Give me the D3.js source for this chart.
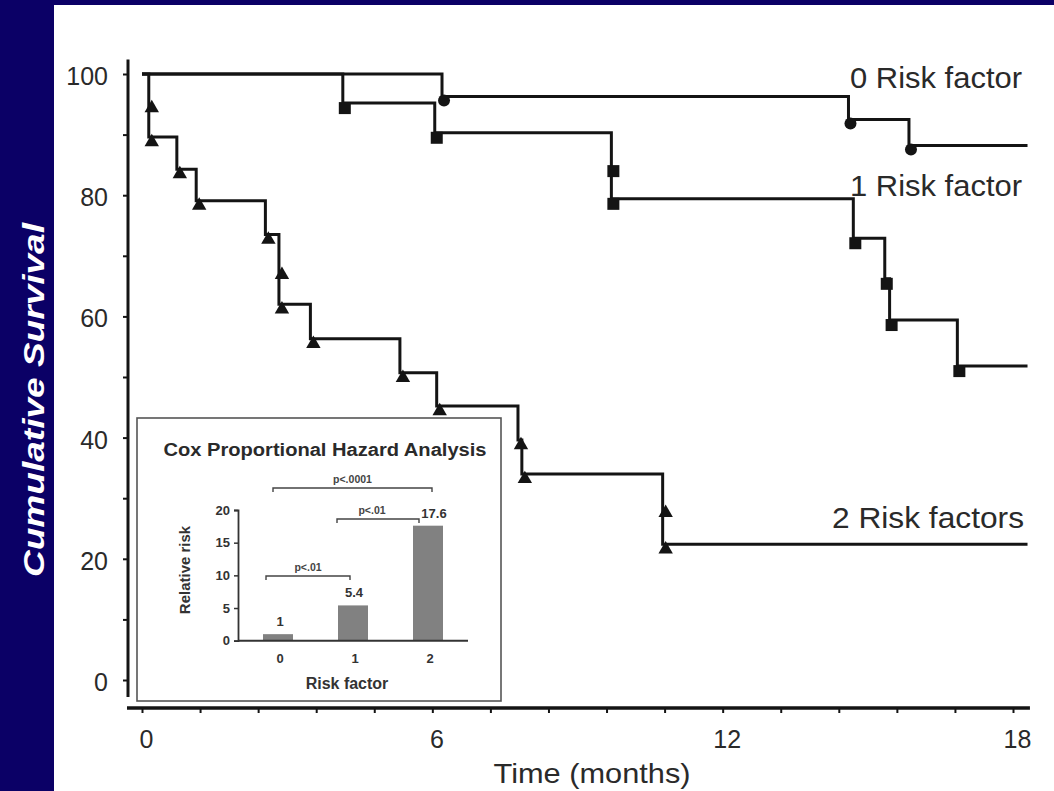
<!DOCTYPE html>
<html>
<head>
<meta charset="utf-8">
<script src="https://cdn.jsdelivr.net/npm/d3@7"></script>
<style>
  html, body { margin: 0; padding: 0; background: #ffffff; }
  svg { display: block; }
  text { font-family: "Liberation Sans", Arial, sans-serif; }
</style>
</head>
<body>
<svg id="chart" width="1054" height="791"></svg>
<script>
// ---------------- DATA ----------------
const timeEnd = 18.3;
const xTickValues = d3.range(0, 16).map(i => i * 6 / 5);   // ticks every 1.2 months
const xTickLabels = [0, 6, 12, 18];
const yTickValues = d3.range(0, 101, 10);
const yTickLabels = [0, 20, 40, 60, 80, 100];

// 0 risk factor (circles)
const g0Times    = [6.2, 14.6, 15.85];
const g0Survival = [96.3, 92.5, 88.2];
// 1 risk factor (squares)
const g1Times    = [4.15, 6.05, 9.7, 9.7, 14.7, 15.35, 15.45, 16.85];
const g1Survival = [95.2, 90.3, 84.8, 79.4, 72.9, 66.2, 59.4, 51.8];
// 2 risk factors (triangles)
const g2Times    = [0.14, 0.14, 0.72, 1.12, 2.55, 2.83, 2.83, 3.48, 5.33, 6.09, 7.77, 7.85, 10.76, 10.76];
const g2Survival = [95.2, 89.6, 84.3, 79.1, 73.5, 67.7, 62.0, 56.3, 50.7, 45.2, 39.6, 34.0, 28.4, 22.4];

const seriesLabels = ["0 Risk factor", "1 Risk factor", "2 Risk factors"];

// Inset: Cox proportional hazard analysis
const insetCategories = ["0", "1", "2"];
const insetValues = [1, 5.4, 17.6];
const insetValueLabels = ["1", "5.4", "17.6"];
const insetTicks = [0, 5, 10, 15, 20];
const insetBrackets = [
  { from: "0", to: "2", label: "p<.0001" },
  { from: "1", to: "2", label: "p<.01" },
  { from: "0", to: "1", label: "p<.01" }
];

// ---------------- DRAW ----------------
const svg = d3.select("#chart");
const navy = "#0b0066";
const ink = "#141414";

svg.append("rect").attr("x", 0).attr("y", 0).attr("width", 1054).attr("height", 791).attr("fill", navy);
svg.append("rect").attr("x", 54).attr("y", 5).attr("width", 1000).attr("height", 786).attr("fill", "#ffffff");

// y-axis title in the navy band
svg.append("text")
  .attr("transform", "translate(44,400) rotate(-90)")
  .attr("text-anchor", "middle")
  .attr("fill", "#ffffff")
  .attr("font-weight", "bold")
  .attr("font-style", "italic")
  .attr("font-size", 29)
  .attr("textLength", 354)
  .attr("lengthAdjust", "spacingAndGlyphs")
  .text("Cumulative Survival");

const x = d3.scaleLinear().domain([0, 18]).range([142, 1013]);
const y = d3.scaleLinear().domain([0, 100]).range([680, 74]);

// Y axis
const yAxis = d3.axisLeft(y).tickValues(yTickValues).tickSize(5)
  .tickFormat(d => yTickLabels.includes(d) ? d : "");
const gy = svg.append("g").attr("transform", "translate(128,0)").call(yAxis);
gy.select(".domain").remove();
gy.selectAll(".tick line").attr("stroke", ink).attr("stroke-width", 2);
gy.selectAll(".tick text")
  .attr("x", -20).attr("dy", "0.42em")
  .attr("font-size", 25).attr("fill", "#2a2a2a")
  .attr("font-family", "Liberation Sans, Arial, sans-serif");
svg.append("line")
  .attr("x1", 128).attr("x2", 128)
  .attr("y1", y(102.4)).attr("y2", y(-2.8))
  .attr("stroke", ink).attr("stroke-width", 3);

// X axis
const xAxis = d3.axisBottom(x).tickValues(xTickValues).tickSize(5)
  .tickFormat((d, i) => i % 5 === 0 ? xTickLabels[i / 5] : "");
const gx = svg.append("g").attr("transform", "translate(0,708)").call(xAxis);
gx.select(".domain").remove();
gx.selectAll(".tick line").attr("stroke", ink).attr("stroke-width", 2);
gx.selectAll(".tick text")
  .attr("y", 22).attr("dx", 4)
  .attr("font-size", 25).attr("fill", "#2a2a2a")
  .attr("font-family", "Liberation Sans, Arial, sans-serif");
svg.append("line")
  .attr("x1", x(-0.31)).attr("x2", x(18.35))
  .attr("y1", 708).attr("y2", 708)
  .attr("stroke", ink).attr("stroke-width", 3.5);

svg.append("text")
  .attr("x", 592).attr("y", 783)
  .attr("text-anchor", "middle")
  .attr("font-size", 28).attr("fill", "#2a2a2a")
  .attr("textLength", 197).attr("lengthAdjust", "spacingAndGlyphs")
  .text("Time (months)");

// Survival curves
const line = d3.line().x(d => x(d[0])).y(d => y(d[1])).curve(d3.curveStepAfter);
function seriesPoints(times, surv) {
  const pts = [[0, 100]];
  times.forEach((t, i) => pts.push([t, surv[i]]));
  pts.push([timeEnd, surv[surv.length - 1]]);
  return pts;
}
const groups = [
  { times: g0Times, surv: g0Survival, shape: "circle" },
  { times: g1Times, surv: g1Survival, shape: "square" },
  { times: g2Times, surv: g2Survival, shape: "triangle" }
];
groups.forEach(g => {
  svg.append("path")
    .attr("d", line(seriesPoints(g.times, g.surv)))
    .attr("fill", "none").attr("stroke", ink).attr("stroke-width", 3);
});
groups.forEach(g => {
  g.times.forEach((t, i) => {
    const cx = x(t) + 2, cy = y(g.surv[i]);
    if (g.shape === "circle") {
      svg.append("circle").attr("cx", cx).attr("cy", cy + 4).attr("r", 6).attr("fill", ink);
    } else if (g.shape === "square") {
      svg.append("rect").attr("x", cx - 6).attr("y", cy - 1).attr("width", 12).attr("height", 12).attr("fill", ink);
    } else {
      svg.append("path")
        .attr("d", d3.symbol().type(d3.symbolTriangle).size(90)())
        .attr("transform", `translate(${cx + 1},${cy + 5})`)
        .attr("fill", ink);
    }
  });
});

// Series labels
const labelPos = [{ x: 850, s: 99.5, w: 172 }, { x: 850, s: 81.7, w: 172 }, { x: 832, s: 26.9, w: 192 }];
seriesLabels.forEach((lab, i) => {
  svg.append("text")
    .attr("x", labelPos[i].x).attr("y", y(labelPos[i].s))
    .attr("dy", "0.36em")
    .attr("font-size", 30).attr("fill", "#2a2a2a")
    .attr("textLength", labelPos[i].w).attr("lengthAdjust", "spacingAndGlyphs")
    .text(lab);
});

// ---------------- INSET ----------------
const inset = svg.append("g");
inset.append("rect")
  .attr("x", 137).attr("y", 418).attr("width", 364).attr("height", 283)
  .attr("fill", "#ffffff").attr("stroke", "#555").attr("stroke-width", 1.6);
inset.append("text")
  .attr("x", 325).attr("y", 456).attr("text-anchor", "middle")
  .attr("font-size", 17.5).attr("font-weight", "bold").attr("fill", "#2a2a2a")
  .attr("textLength", 323).attr("lengthAdjust", "spacingAndGlyphs")
  .text("Cox Proportional Hazard Analysis");

const ix = d3.scaleBand().domain(insetCategories).range([236, 470]).paddingInner(0.6).paddingOuter(0.36);
const iy = d3.scaleLinear().domain([0, 20]).range([640.7, 510]);

inset.selectAll("rect.bar").data(insetValues).enter().append("rect")
  .attr("class", "bar")
  .attr("x", (d, i) => ix(insetCategories[i]))
  .attr("width", ix.bandwidth())
  .attr("y", d => iy(d))
  .attr("height", d => iy(0) - iy(d))
  .attr("fill", "#818181");

const iyAxis = d3.axisLeft(iy).tickValues(insetTicks).tickSize(4);
const giy = inset.append("g").attr("transform", "translate(238,0)").call(iyAxis);
giy.select(".domain").attr("stroke", "#333").attr("stroke-width", 1.8);
giy.selectAll(".tick line").attr("stroke", "#333").attr("stroke-width", 1.5);
giy.selectAll(".tick text").attr("font-size", 13).attr("font-weight", "bold").attr("fill", "#333")
  .attr("font-family", "Liberation Sans, Arial, sans-serif").attr("x", -8);

inset.append("line")
  .attr("x1", 238).attr("x2", 468).attr("y1", iy(0)).attr("y2", iy(0))
  .attr("stroke", "#333").attr("stroke-width", 2);

const valueDx = [2, 1, 6];
insetCategories.forEach((c, i) => {
  inset.append("text")
    .attr("x", ix(c) + ix.bandwidth() / 2 + 2).attr("y", 663)
    .attr("text-anchor", "middle").attr("font-size", 13).attr("font-weight", "bold").attr("fill", "#333")
    .text(c);
  inset.append("text")
    .attr("x", ix(c) + ix.bandwidth() / 2 + valueDx[i]).attr("y", iy(insetValues[i]) - 8)
    .attr("text-anchor", "middle").attr("font-size", 13).attr("font-weight", "bold").attr("fill", "#333")
    .text(insetValueLabels[i]);
});

inset.append("text")
  .attr("x", 347).attr("y", 689).attr("text-anchor", "middle")
  .attr("font-size", 16).attr("font-weight", "bold").attr("fill", "#333")
  .text("Risk factor");
inset.append("text")
  .attr("transform", "translate(190,570) rotate(-90)").attr("text-anchor", "middle")
  .attr("font-size", 15).attr("font-weight", "bold").attr("fill", "#333")
  .text("Relative risk");

// Significance brackets
const bracketY = [488, 519, 576];
const bracketEnds = [[273, 432], [337, 419], [266, 350]];
insetBrackets.forEach((b, i) => {
  const [x1, x2] = bracketEnds[i];
  const yy = bracketY[i];
  inset.append("path")
    .attr("d", `M${x1},${yy + 4}V${yy}H${x2}V${yy + 4}`)
    .attr("fill", "none").attr("stroke", "#444").attr("stroke-width", 1.4);
  inset.append("text")
    .attr("x", (x1 + x2) / 2 + (i === 1 ? -6 : 0)).attr("y", yy - 5)
    .attr("text-anchor", "middle").attr("font-size", 10.5).attr("font-weight", "bold").attr("fill", "#444")
    .text(b.label);
});
</script>
</body>
</html>
